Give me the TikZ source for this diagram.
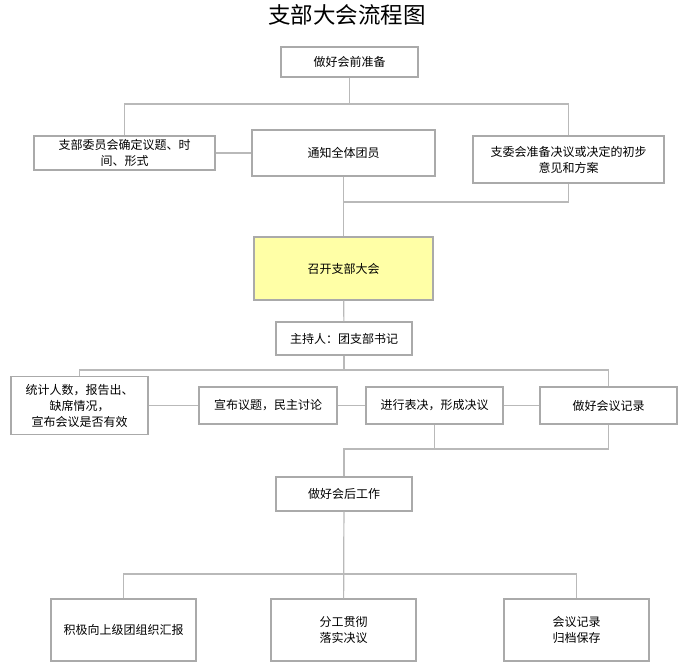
\documentclass[tikz,border=0pt]{standalone}
\usepackage{fontspec}
\setmainfont{Noto Sans CJK SC}
\usepackage{tikz}
\definecolor{boxline}{RGB}{170,170,170}
\definecolor{wireline}{RGB}{185,185,185}
\definecolor{hilite}{RGB}{255,255,166}

\begin{document}
\begin{tikzpicture}[x=1pt,y=-1pt]
\tikzstyle{stepbox}=[draw=boxline,line width=1.2pt,fill=white,align=center,inner sep=2pt,font=\fontsize{12}{16}\selectfont]
\tikzstyle{wire}=[draw=wireline,line width=1.2pt]
% end of styles
\useasboundingbox (0,0) rectangle (692,669);
\node (title) at (347,15) {\fontsize{22.5}{26}\selectfont 支部大会流程图};
% before the meeting
\node[stepbox,minimum width=137pt,minimum height=30pt] (prep) at (349.5,62) {做好会前准备};
\node[stepbox,minimum width=181pt,minimum height=34pt] (decide) at (124.5,153) {支部委员会确定议题、时\\间、形式};
\node[stepbox,minimum width=183pt,minimum height=46pt] (notify) at (343.5,153) {通知全体团员};
\node[stepbox,minimum width=191pt,minimum height=47pt] (plan) at (568.5,159.5) {支委会准备决议或决定的初步\\意见和方案};
% the meeting
\node[stepbox,fill=hilite,minimum width=179pt,minimum height=63pt] (meeting) at (343.5,268.5) {召开支部大会};
\node[stepbox,minimum width=136pt,minimum height=33pt] (host) at (344,338.5) {主持人：团支部书记};
\node[stepbox,minimum width=137pt,minimum height=58pt] (count) at (79.5,405.5) {统计人数，报告出、\\缺席情况，\\宣布会议是否有效};
\node[stepbox,minimum width=138pt,minimum height=37pt] (announce) at (268,405.5) {宣布议题，民主讨论};
\node[stepbox,minimum width=137pt,minimum height=37pt] (vote) at (434.5,405.5) {进行表决，形成决议};
\node[stepbox,minimum width=137pt,minimum height=37pt] (record) at (608.5,405.5) {做好会议记录};
% after the meeting
\node[stepbox,minimum width=136pt,minimum height=34pt] (after) at (344,494) {做好会后工作};
\node[stepbox,minimum width=145pt,minimum height=62pt] (report) at (123.5,630) {积极向上级团组织汇报};
\node[stepbox,minimum width=145pt,minimum height=62pt] (implement) at (343.5,630) {分工贯彻\\落实决议};
\node[stepbox,minimum width=145pt,minimum height=62pt] (archive) at (576.5,630) {会议记录\\归档保存};
% junctions
\coordinate (busA) at (349.5,104);
\coordinate (joinA) at (343.5,202);
\coordinate (busB) at (344,370);
\coordinate (joinB) at (344,449);
\coordinate (busC) at (344,574);
% connectors
\draw[wire] (prep) -- (busA);
\draw[wire] (decide.north) |- (busA) -| (plan.north);
\draw[wire] (decide) -- (notify);
\draw[wire] (notify) -- (meeting);
\draw[wire] (plan.south) |- (joinA);
\draw[wire] (meeting) -- (host);
\draw[wire] (host) -- (busB);
\draw[wire] (count.north) |- (busB) -| (record.north);
\draw[wire] (count) -- (announce);
\draw[wire] (announce) -- (vote);
\draw[wire] (vote) -- (record);
\draw[wire] (vote.south) -- (vote.south |- joinB);
\draw[wire] (record.south) |- (joinB) -- (after.north);
\draw[wire] (after) -- (implement);
\draw[wire] (report.north) |- (busC) -| (archive.north);
\end{tikzpicture}
\end{document}
